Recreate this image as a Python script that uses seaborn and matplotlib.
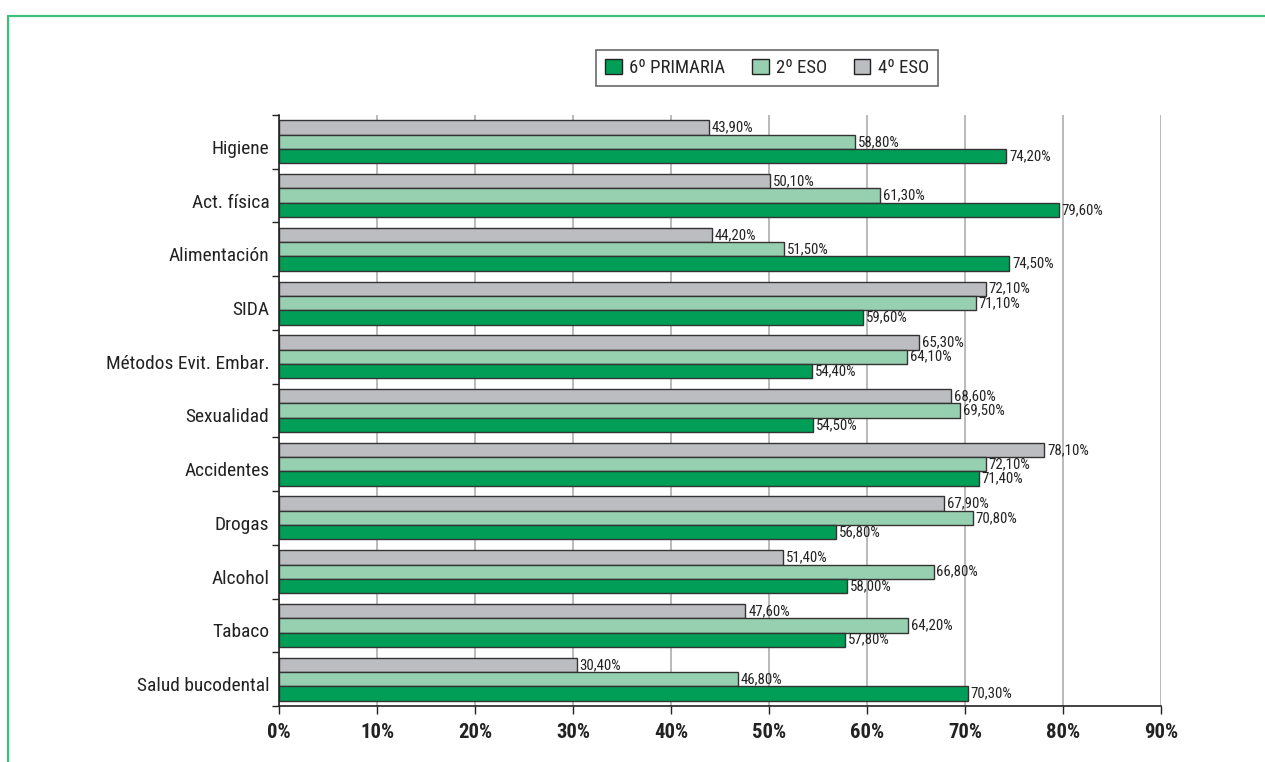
import matplotlib
matplotlib.use("Agg")
import matplotlib.pyplot as plt
import matplotlib.font_manager as fm
import matplotlib.transforms as mtransforms
import seaborn as sns
import pandas as pd
from matplotlib.lines import Line2D
from matplotlib.patches import Patch

categories = ["Higiene", "Act. física", "Alimentación", "SIDA", "Métodos Evit. Embar.",
              "Sexualidad", "Accidentes", "Drogas", "Alcohol", "Tabaco", "Salud bucodental"]
primaria6 = [74.2, 79.6, 74.5, 59.6, 54.4, 54.5, 71.4, 56.8, 58.0, 57.8, 70.3]
eso2 = [58.8, 61.3, 51.5, 71.1, 64.1, 69.5, 72.1, 70.8, 66.8, 64.2, 46.8]
eso4 = [43.9, 50.1, 44.2, 72.1, 65.3, 68.6, 78.1, 67.9, 51.4, 47.6, 30.4]
series_names = ["6º PRIMARIA", "2º ESO", "4º ESO"]
xticks = [0, 10, 20, 30, 40, 50, 60, 70, 80, 90]

colors = {"6º PRIMARIA": "#009E57", "2º ESO": "#97D0B1", "4º ESO": "#BCBDC1"}

rows = []
for name, vals in zip(series_names, [primaria6, eso2, eso4]):
    for c, v in zip(categories, vals):
        rows.append({"cat": c, "serie": name, "val": v})
df = pd.DataFrame(rows)

sns.set_theme(style="white")

# pick the narrowest available sans family
names = {f.name for f in fm.fontManager.ttflist}
stretch = "normal"
if "Liberation Sans Narrow" in names:
    fam = "Liberation Sans Narrow"
elif "Roboto Condensed" in names:
    fam = "Roboto Condensed"
elif any(f.name == "DejaVu Sans" and "ondensed" in str(f.stretch) + f.fname for f in fm.fontManager.ttflist):
    fam = "DejaVu Sans"
    stretch = "condensed"
elif "Roboto" in names:
    fam = "Roboto"
else:
    fam = "Liberation Sans"
plt.rcParams['font.family'] = [fam, 'DejaVu Sans']
plt.rcParams['font.stretch'] = stretch

fig = plt.figure(figsize=(12.65, 7.62), dpi=100)
renderer = fig.canvas.get_renderer()


def fit_size(text, target_px, weight="normal", base=14.0):
    t = fig.text(0, 0, text, fontsize=base, fontweight=weight)
    w = t.get_window_extent(renderer=renderer).width
    t.remove()
    return base * target_px / w


ylab_size = fit_size("Alimentación", 101)
bar_size = fit_size("78,10%", 42)
xtick_size = fit_size("90%", 34, weight="bold")
leg_size = fit_size("6º PRIMARIA", 97)

ax = fig.add_axes([279/1265, 1-706/762, (1161-279)/1265, (706-115)/762])

hue_order = ["4º ESO", "2º ESO", "6º PRIMARIA"]
sns.barplot(data=df, y="cat", x="val", hue="serie", hue_order=hue_order, order=categories,
            palette=colors, orient="h", width=0.8, edgecolor="#333333", linewidth=1.0,
            ax=ax, legend=False, saturation=1)

for cont, name in zip(ax.containers, hue_order):
    vals = df[df.serie == name].set_index("cat").loc[categories, "val"].tolist()
    labs = [f"{v:.2f}".replace(".", ",") + "%" for v in vals]
    ax.bar_label(cont, labels=labs, padding=2, fontsize=bar_size, color="#222222")

ax.set_xlim(0, 90)
ax.set_ylim(len(categories) - 0.5, -0.5)
ax.set_xticks(xticks)
ax.set_xticklabels([f"{t}%" for t in xticks], fontsize=xtick_size, fontweight="bold", color="#222222")
ax.set_yticks(range(len(categories)))
ax.set_yticklabels(categories, fontsize=ylab_size, color="#222222")
ax.set_yticks([i - 0.5 for i in range(len(categories) + 1)], minor=True)
ax.tick_params(axis="y", which="major", length=0, pad=7)
ax.tick_params(axis="y", which="minor", length=5, width=1, color="#222222", left=True)
ax.tick_params(axis="x", which="major", length=6, width=1, color="#222222", pad=6, bottom=True)
ax.set_xlabel("")
ax.set_ylabel("")
ax.grid(axis="x", color="#AEAEAE", linewidth=1.2)
ax.set_axisbelow(True)
for s in ["top", "right"]:
    ax.spines[s].set_visible(False)
for s in ["left", "bottom"]:
    ax.spines[s].set_color("#222222")
    ax.spines[s].set_linewidth(1.2)

shift = mtransforms.ScaledTranslation(0, -5 / 100, fig.dpi_scale_trans)
for lab in ax.get_yticklabels():
    lab.set_transform(lab.get_transform() + shift)

handles = [Patch(facecolor=colors[n], edgecolor="#222222", linewidth=1.0) for n in series_names]
leg = fig.legend(handles, series_names, loc="center", bbox_to_anchor=(767/1265, 1-68/762),
                 ncol=3, fontsize=leg_size, frameon=True, fancybox=False, edgecolor="#444444",
                 handlelength=0.9, handleheight=0.9, handletextpad=0.4, columnspacing=1.4,
                 borderpad=0.45)
leg.get_frame().set_linewidth(1.2)

green = "#3BBF7A"
fig.add_artist(Line2D([8/1265, 8/1265], [0, 1-16/762], color=green, linewidth=1.6,
                      transform=fig.transFigure))
fig.add_artist(Line2D([8/1265, 1], [1-16/762, 1-16/762], color=green, linewidth=1.6,
                      transform=fig.transFigure))

fig.savefig("out.png", dpi=100, facecolor="white")
